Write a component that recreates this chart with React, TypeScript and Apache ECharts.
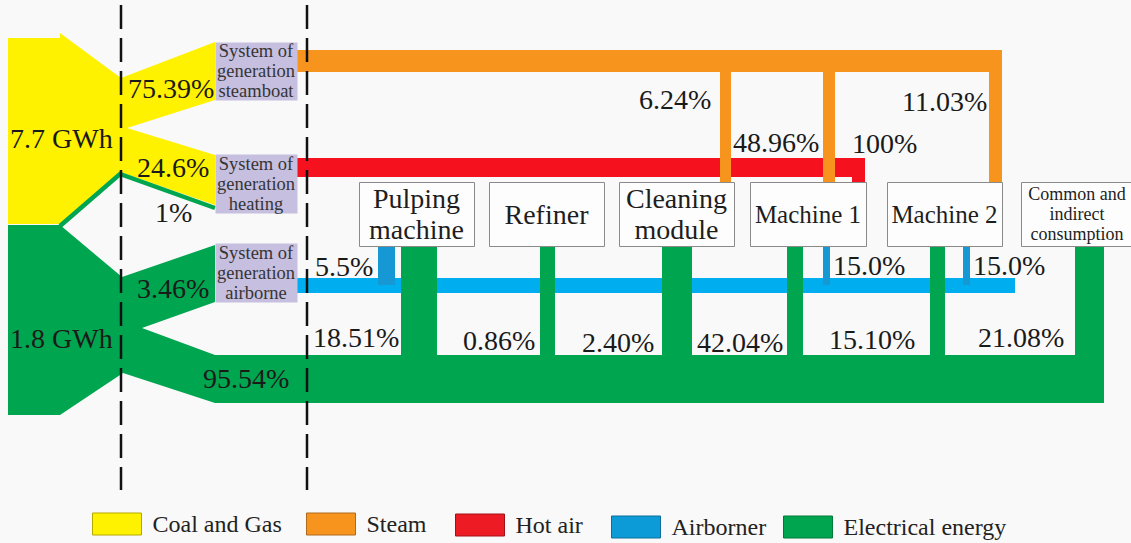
import React, { useEffect, useRef } from 'react';
import * as echarts from 'echarts';

// ---------------- data ----------------
const energyTypes = ['Coal and Gas', 'Steam', 'Hot air', 'Airborner', 'Electrical energy'];
const sourceLabels = ['7.7 GWh', '1.8 GWh'];
const coalShares = [75.39, 24.6]; // -> steamboat, heating
const electricShares = [1, 3.46, 95.54]; // -> heating, airborne, consumers
const systemNames = ['System of\ngeneration\nsteamboat', 'System of\ngeneration\nheating', 'System of\ngeneration\nairborne'];
const consumerNames = ['Pulping\nmachine', 'Refiner', 'Cleaning\nmodule', 'Machine 1', 'Machine 2', 'Common and\nindirect\nconsumption'];
const steamShares = [6.24, 48.96, 11.03]; // -> Cleaning module, Machine 1, Machine 2
const hotAirShares = [100]; // -> Machine 1
const airShares = [5.5, 15.0, 15.0]; // -> Pulping machine, Machine 1, Machine 2
const electricConsumerShares = [18.51, 0.86, 2.4, 42.04, 15.1, 21.08];

// ---------------- layout & style ----------------
const W = 1131;
const H = 543;
const FONT = 'Liberation Serif';
const C = {
  coal: '#fff200',
  steam: '#f7941d',
  hot: '#f5121e',
  air: '#00aeef',
  airDark: '#1598d4',
  elec: '#00a54f',
  system: '#c6bfdf',
  text: '#1a1a1a',
};
const legendColors = [
  { color: '#fff200', borderColor: '#b5a800' },
  { color: '#f7941d', borderColor: '#b06a20' },
  { color: '#ed1c24', borderColor: '#a01018' },
  { color: '#0d9bd7', borderColor: '#0a6f9c' },
  { color: '#00a54f', borderColor: '#007a3a' },
];
const legendPos = [
  [92, 512],
  [306, 512],
  [455, 513],
  [611, 515],
  [783, 515],
];
const systemX = [215, 297];
const systemY = [
  [42, 100],
  [154, 213],
  [243, 302],
];
const consumerX = [
  [359, 474],
  [489, 604],
  [619, 734],
  [750, 866],
  [887, 1002],
  [1021, 1133],
];
const consumerY = [182, 246];
const consumerFont = [28, 28, 28, 25, 25, 18];
const consumerLH = [31, 31, 31, 25, 25, 20];

const steamBarY = [50, 72];
const steamBarEnd = 1002;
const steamDropX = [
  [720, 731],
  [823, 835],
  [989, 1002],
];
const hotBarY = [158, 177];
const hotBarEnd = 865;
const hotDropX = [[852, 865]];
const airBarY = [278, 293];
const airBarEnd = 1015;
const airDropX = [
  [378, 395],
  [823, 830],
  [963, 970],
];
const airDropBottom = 285;
const elecBarY = [355, 403];
const elecBarEnd = 1104;
const elecDropX = [
  [401, 437],
  [540, 555],
  [662, 692],
  [787, 803],
  [930, 945],
  [1075, 1104],
];

const coalPoly = [
  [8, 38], [60, 38], [60, 33], [121, 78], [215, 42], [215, 100], [127, 128],
  [215, 155], [215, 205], [120, 172], [60, 224], [8, 224],
];
const elecPoly = [
  [8, 225], [60, 225], [122, 277], [215, 245], [215, 302], [142, 328],
  [215, 355], [215, 403], [123, 373], [60, 415], [8, 415],
];
const elecThinLine = [
  [60, 226], [120, 174], [215, 208],
];
const guideX = [121, 307];
const guideY = [5, 490];

const sourceLabelPos = [[10, 138.5], [10, 338.5]];
const coalLabelPos = [[128, 88.5], [137, 167.5]];
const electricLabelPos = [[155, 212.5], [137, 288.5], [203, 378.5]];
const steamLabelPos = [[639, 99.5], [733, 142.5], [902, 101.5]];
const hotLabelPos = [[852, 143.5]];
const airLabelPos = [[315, 266.5], [833, 265.5], [973, 265.5]];
const elecConsumerLabelPos = [[313, 337.5], [463, 340.5], [582, 342.5], [697, 342], [829, 339.5], [978, 337.5]];

// ---------------- helpers ----------------
const pctAuto = (v: number) => String(v) + '%';
const pctFixed = (d: number) => (v: number) => v.toFixed(d) + '%';

type Shape =
  | { kind: 'rect'; r: number[]; fill?: string }
  | { kind: 'poly'; pts: number[][]; fill?: string }
  | { kind: 'line'; pts: number[][]; w: number; fill?: string };

function renderShapes(shapes: Shape[], color: string) {
  return (params: any, api: any) => {
    const s = shapes[params.dataIndex];
    const fill = s.fill || color;
    if (s.kind === 'rect') {
      const a = api.coord([s.r[0], s.r[1]]);
      const b = api.coord([s.r[2], s.r[3]]);
      return {
        type: 'rect',
        shape: { x: Math.min(a[0], b[0]), y: Math.min(a[1], b[1]), width: Math.abs(b[0] - a[0]), height: Math.abs(b[1] - a[1]) },
        style: { fill },
      };
    }
    if (s.kind === 'poly') {
      return { type: 'polygon', shape: { points: s.pts.map((p) => api.coord(p)) }, style: { fill } };
    }
    return {
      type: 'polyline',
      shape: { points: s.pts.map((p) => api.coord(p)) },
      style: { stroke: fill, lineWidth: s.w, fill: 'none', lineJoin: 'miter' },
    };
  };
}

function flowSeries(name: string, color: string, shapes: Shape[], z: number) {
  return {
    type: 'custom',
    name,
    coordinateSystem: 'cartesian2d',
    data: shapes.map((_, i) => [i, 0]),
    renderItem: renderShapes(shapes, color),
    itemStyle: { color },
    silent: true,
    clip: false,
    z,
  };
}

const rect = (x0: number, y0: number, x1: number, y1: number, fill?: string): Shape => ({ kind: 'rect', r: [x0, y0, x1, y1], fill });

function buildOption() {
  const coalShapes: Shape[] = [{ kind: 'poly', pts: coalPoly }];
  const hotShapes: Shape[] = [
    rect(systemX[1], hotBarY[0], hotBarEnd, hotBarY[1]),
    ...hotAirShares.map((_, i) => rect(hotDropX[i][0], hotBarY[1] - 1, hotDropX[i][1], consumerY[0])),
  ];
  const steamShapes: Shape[] = [
    rect(systemX[1], steamBarY[0], steamBarEnd, steamBarY[1]),
    ...steamShares.map((_, i) => rect(steamDropX[i][0], steamBarY[1] - 1, steamDropX[i][1], consumerY[0])),
  ];
  const airShapes: Shape[] = [
    rect(systemX[1], airBarY[0], airBarEnd, airBarY[1]),
    ...airShares.map((_, i) => rect(airDropX[i][0], consumerY[1], airDropX[i][1], airDropBottom, C.airDark)),
  ];
  const elecShapes: Shape[] = [
    { kind: 'poly', pts: elecPoly },
    { kind: 'line', pts: elecThinLine, w: 4.5 },
    rect(systemX[0], elecBarY[0], elecBarEnd, elecBarY[1]),
    ...electricConsumerShares.map((_, i) => rect(elecDropX[i][0], consumerY[1], elecDropX[i][1], elecBarY[0] + 1)),
  ];

  const nodes = [
    ...systemNames.map((t, i) => ({
      x0: systemX[0], x1: systemX[1], y0: systemY[i][0], y1: systemY[i][1], text: t,
      fill: C.system, stroke: 'none', fs: 18.5, lh: 20, color: '#353535',
    })),
    ...consumerNames.map((t, i) => ({
      x0: consumerX[i][0], x1: consumerX[i][1], y0: consumerY[0], y1: consumerY[1], text: t,
      fill: '#fdfdfd', stroke: '#8a8a8a', fs: consumerFont[i], lh: consumerLH[i], color: '#1e1e1e',
    })),
  ];

  const labels = [
    ...sourceLabels.map((t, i) => ({ t, p: sourceLabelPos[i] })),
    ...coalShares.map((v, i) => ({ t: pctAuto(v), p: coalLabelPos[i] })),
    ...electricShares.map((v, i) => ({ t: pctAuto(v), p: electricLabelPos[i] })),
    ...steamShares.map((v, i) => ({ t: pctFixed(2)(v), p: steamLabelPos[i] })),
    ...hotAirShares.map((v, i) => ({ t: pctAuto(v), p: hotLabelPos[i] })),
    ...airShares.map((v, i) => ({ t: pctFixed(1)(v), p: airLabelPos[i] })),
    ...electricConsumerShares.map((v, i) => ({ t: pctFixed(2)(v), p: elecConsumerLabelPos[i] })),
  ];

  const series: any[] = [
    flowSeries(energyTypes[0], C.coal, coalShapes, 2),
    flowSeries(energyTypes[2], C.hot, hotShapes, 3),
    flowSeries(energyTypes[1], C.steam, steamShapes, 4),
    flowSeries(energyTypes[3], C.air, airShapes, 5),
    flowSeries(energyTypes[4], C.elec, elecShapes, 6),
    {
      type: 'custom',
      name: 'nodes',
      coordinateSystem: 'cartesian2d',
      data: nodes.map((_, i) => [i, 0]),
      silent: true,
      clip: false,
      z: 7,
      renderItem: (params: any, api: any) => {
        const n = nodes[params.dataIndex];
        const a = api.coord([n.x0, n.y0]);
        const b = api.coord([n.x1, n.y1]);
        return {
          type: 'group',
          children: [
            {
              type: 'rect',
              shape: { x: a[0] + 0.5, y: a[1] + 0.5, width: b[0] - a[0], height: b[1] - a[1] },
              style: { fill: n.fill, stroke: n.stroke, lineWidth: 1 },
            },
            {
              type: 'text',
              x: (a[0] + b[0]) / 2,
              y: (a[1] + b[1]) / 2,
              style: {
                text: n.text, fontSize: n.fs, fontFamily: FONT, fill: n.color,
                align: 'center', verticalAlign: 'middle', lineHeight: n.lh,
              },
            },
          ],
        };
      },
    },
    {
      type: 'custom',
      name: 'guides',
      coordinateSystem: 'cartesian2d',
      data: guideX.map((_, i) => [i, 0]),
      silent: true,
      clip: false,
      z: 8,
      renderItem: (params: any, api: any) => {
        const x = guideX[params.dataIndex];
        const a = api.coord([x, guideY[0]]);
        const b = api.coord([x, guideY[1]]);
        return {
          type: 'line',
          shape: { x1: a[0], y1: a[1], x2: b[0], y2: b[1] },
          style: { stroke: '#111', lineWidth: 2.5, lineDash: [24, 9] },
        };
      },
    },
    {
      type: 'custom',
      name: 'labels',
      coordinateSystem: 'cartesian2d',
      data: labels.map((_, i) => [i, 0]),
      silent: true,
      clip: false,
      z: 9,
      renderItem: (params: any, api: any) => {
        const l = labels[params.dataIndex];
        const p = api.coord(l.p);
        return {
          type: 'text',
          x: p[0],
          y: p[1],
          style: { text: l.t, fontSize: 28, fontFamily: FONT, fill: C.text, align: 'left', verticalAlign: 'middle' },
        };
      },
    },
  ];

  const legend = energyTypes.map((name, i) => ({
    data: [{ name, itemStyle: { color: legendColors[i].color, borderColor: legendColors[i].borderColor, borderWidth: 1 } }],
    left: legendPos[i][0],
    top: legendPos[i][1],
    padding: 0,
    icon: 'rect',
    itemWidth: 49,
    itemHeight: 22,
    selectedMode: false,
    textStyle: { fontSize: 24, fontFamily: FONT, color: '#222', padding: [0, 0, 0, 6] },
  }));

  return {
    animation: false,
    backgroundColor: '#f9f9f9',
    grid: { left: 0, right: 0, top: 0, bottom: 0 },
    xAxis: { type: 'value', min: 0, max: W, show: false },
    yAxis: { type: 'value', min: 0, max: H, inverse: true, show: false },
    legend,
    series,
  };
}

export default function App() {
  const ref = useRef<HTMLDivElement>(null);
  useEffect(() => {
    const chart = echarts.init(ref.current as HTMLDivElement, null, { renderer: 'svg' });
    chart.setOption(buildOption() as any);
    return () => chart.dispose();
  }, []);
  return (
    <div
      ref={ref}
      style={{ position: 'fixed', left: 0, top: 0, width: W, height: H, background: '#f9f9f9' }}
    />
  );
}
